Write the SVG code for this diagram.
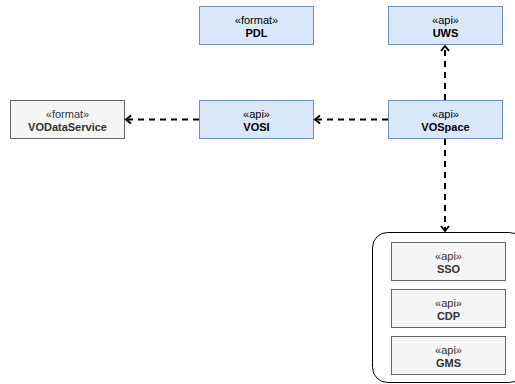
<svg xmlns="http://www.w3.org/2000/svg" width="515" height="384" viewBox="0 0 515 384">
<style>
.blue{fill:#dae8fc;stroke:#6c8ebf;stroke-width:1}
.gray{fill:#f5f5f5;stroke:#666666;stroke-width:1}
.st{font-family:"Liberation Sans",Arial,sans-serif;font-size:11px;text-anchor:middle;fill:#000}
.nm{font-family:"Liberation Sans",Arial,sans-serif;font-size:11px;font-weight:bold;text-anchor:middle;fill:#000}
.g .st,.g .nm{fill:#333333}
.edge{fill:none;stroke:#000;stroke-width:2;stroke-dasharray:6 5}
</style>
<defs>
<marker id="arr" markerWidth="10" markerHeight="12" refX="7" refY="5" orient="auto" markerUnits="userSpaceOnUse" viewBox="0 0 10 10">
<path d="M2,1 L7,5 L2,9" fill="none" stroke="#000" stroke-width="2"/>
</marker>
</defs>
<rect width="515" height="384" fill="#fff"/>
<g id="container">
<rect x="372.5" y="232.5" width="152" height="150" rx="15" ry="15" fill="#fff" stroke="#000" stroke-width="1"/>
</g>
<g id="PDL"><rect class="blue" x="199.5" y="6.5" width="114" height="38"/><text class="st" x="256.5" y="23.5">«format»</text><text class="nm" x="256.5" y="36.5">PDL</text></g>
<g id="UWS"><rect class="blue" x="388.5" y="6.5" width="114" height="38"/><text class="st" x="445.5" y="23.5">«api»</text><text class="nm" x="445.5" y="36.5">UWS</text></g>
<g id="VODataService" class="g"><rect class="gray" x="10.5" y="100.5" width="114" height="38"/><text class="st" x="67.5" y="117.5">«format»</text><text class="nm" x="67.5" y="130.5">VODataService</text></g>
<g id="VOSI"><rect class="blue" x="199.5" y="100.5" width="114" height="38"/><text class="st" x="256.5" y="117.5">«api»</text><text class="nm" x="256.5" y="130.5">VOSI</text></g>
<g id="VOSpace"><rect class="blue" x="388.5" y="100.5" width="114" height="38"/><text class="st" x="445.5" y="117.5">«api»</text><text class="nm" x="445.5" y="130.5">VOSpace</text></g>
<g id="SSO" class="g"><rect class="gray" x="391.5" y="242.5" width="114" height="38"/><text class="st" x="448.5" y="259.5">«api»</text><text class="nm" x="448.5" y="272.5">SSO</text></g>
<g id="CDP" class="g"><rect class="gray" x="391.5" y="289.5" width="114" height="38"/><text class="st" x="448.5" y="306.5">«api»</text><text class="nm" x="448.5" y="319.5">CDP</text></g>
<g id="GMS" class="g"><rect class="gray" x="391.5" y="336.5" width="114" height="38"/><text class="st" x="448.5" y="353.5">«api»</text><text class="nm" x="448.5" y="366.5">GMS</text></g>
<g id="connectors">
<path class="edge" d="M388,119.5 L315,119.5" marker-end="url(#arr)"/>
<path class="edge" d="M199,119.5 L126,119.5" marker-end="url(#arr)"/>
<path class="edge" d="M445,100 L445,46" marker-end="url(#arr)"/>
<path class="edge" d="M445,139 L445,231" marker-end="url(#arr)"/>
</g>
</svg>
